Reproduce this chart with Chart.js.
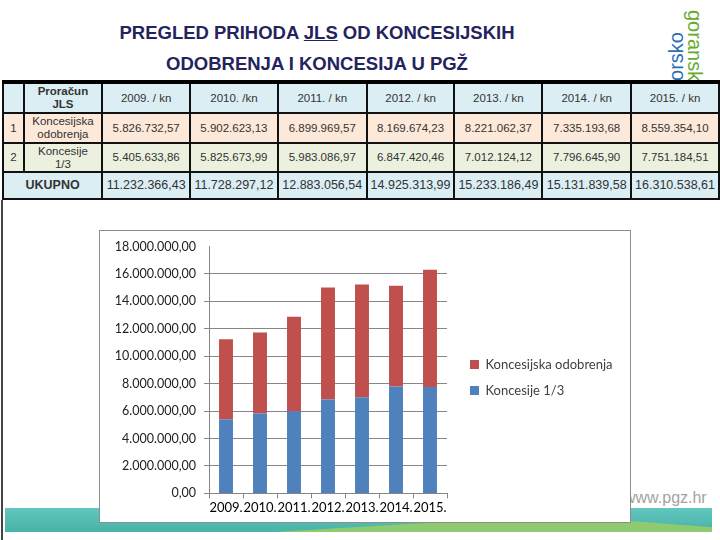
<!DOCTYPE html>
<html>
<head>
<meta charset="utf-8">
<script src="https://cdn.jsdelivr.net/npm/chart.js@4/dist/chart.umd.min.js"></script>
<style>
    body { margin: 0; width: 720px; height: 540px; position: relative; overflow: hidden; background: #fff; font-family: "Liberation Sans", Arial, sans-serif; }
    .title { position: absolute; left: 0; top: 17px; width: 634px; text-align: center; color: #23235e; font-weight: bold; font-size: 18.5px; line-height: 31px; }
    .logo { position: absolute; left: 664px; top: 0; width: 50px; height: 80px; overflow: hidden; }
    .logo span { position: absolute; font-size: 20px; line-height: 19px; writing-mode: vertical-rl; }
    .logo .w1 { left: 3px; top: 32px; color: #2a6fb5; transform: rotate(180deg); }
    .logo .w2 { left: 21px; top: 10px; color: #66ab2e; }
    table { position: absolute; left: 2px; top: 80px; border-collapse: collapse; table-layout: fixed; background: #fff; }
    td { border: 2px solid #111; text-align: center; color: #333; font-size: 11.5px; padding: 0; line-height: 13px; }
    tr.head td { background: #dbeef4; height: 28px; }
    tr.r1 td { background: #fde9d9; height: 28px; }
    tr.r2 td { background: #ebf1de; height: 27px; }
    tr.tot td { background: #dbeef4; height: 25px; font-size: 12.5px; }
    tr.head td { border-top: 4px solid #000; }
    .bold { font-weight: bold; }
    .leftline { position: absolute; left: 1px; top: 200px; width: 2px; height: 340px; background: #444; }
    .band { position: absolute; left: 5px; top: 508px; width: 707px; height: 24px; background: linear-gradient(to bottom, #62c6bf, #48b3a6); }
    .band .green { position: absolute; left: 0; top: 0; width: 100%; height: 100%; background: #8fca70; clip-path: polygon(38% 100%, 78% 30%, 100% 80%, 100% 100%); }
    .www { position: absolute; left: 624px; top: 489px; font-size: 16px; color: #a3a3a3; font-family: "Liberation Sans", Arial, sans-serif; }
    .chartbox { position: absolute; left: 99px; top: 230px; width: 530px; height: 291px; border: 1px solid #8c8c8c; background: #fff; }
</style>
</head>
<body>
<div class="logo"><span class="w1">primorsko</span><span class="w2">goranska</span></div>
<div class="title">PREGLED PRIHODA <u>JLS</u> OD KONCESIJSKIH<br>ODOBRENJA I KONCESIJA U PGŽ</div>
<table id="tbl"></table>
<div class="leftline"></div>
<div class="band"><div class="green"></div></div>
<div class="www">www.pgz.hr</div>
<div class="chartbox"><canvas id="myChart" width="530" height="291"></canvas></div>
<script>
const years = ['2009.', '2010.', '2011.', '2012.', '2013.', '2014.', '2015.'];
const tableHeaders = ['2009. / kn', '2010. /kn', '2011. / kn', '2012. / kn', '2013. / kn', '2014. / kn', '2015. / kn'];
const koncesijskaOdobrenja = [5826732.57, 5902623.13, 6899969.57, 8169674.23, 8221062.37, 7335193.68, 8559354.10];
const koncesije13 = [5405633.86, 5825673.99, 5983086.97, 6847420.46, 7012124.12, 7796645.90, 7751184.51];
const ukupno = [11232366.43, 11728297.12, 12883056.54, 14925313.99, 15233186.49, 15131839.58, 16310538.61];
const yMax = 18000000;
const yStep = 2000000;

const fmt = (v) => {
    let parts = v.toFixed(2).split('.');
    return parts[0].replace(/\B(?=(\d{3})+(?!\d))/g, '.') + ',' + parts[1];
}

const buildTable = () => {
    let colW = [21, 79, 88, 88, 89, 88, 88, 89, 88];
    let html = '<colgroup>' + colW.map(w => '<col style="width:' + w + 'px">').join('') + '</colgroup>';
    html += '<tr class="head"><td></td><td class="bold">Proračun<br>JLS</td>' + tableHeaders.map(h => '<td>' + h + '</td>').join('') + '</tr>';
    html += '<tr class="r1"><td>1</td><td>Koncesijska<br>odobrenja</td>' + koncesijskaOdobrenja.map(v => '<td>' + fmt(v) + '</td>').join('') + '</tr>';
    html += '<tr class="r2"><td>2</td><td>Koncesije<br>1/3</td>' + koncesije13.map(v => '<td>' + fmt(v) + '</td>').join('') + '</tr>';
    html += '<tr class="tot"><td colspan="2" class="bold">UKUPNO</td>' + ukupno.map(v => '<td>' + fmt(v) + '</td>').join('') + '</tr>';
    document.getElementById('tbl').innerHTML = html;
}

// legend on the right: fixed width so the plot ends where the original one does
const legendFit = {
    id: 'legendFit',
    afterInit(chart) {
        const lg = chart.legend;
        const fit = lg.fit;
        lg.fit = function () {
            fit.call(this);
            this.width = 183;
        };
    },
    afterLayout(chart) {
        chart.legend.left += 10;
        chart.legend.right += 10;
        chart.legend.top -= 4;
        chart.legend.bottom -= 4;
    }
}

const myChart = () => {
    const font = "Lato, 'Open Sans', sans-serif";
    new Chart("myChart", {
        type: "bar",
        data: {
            labels: years,
            datasets: [{
                label: 'Koncesije 1/3',
                data: koncesije13,
                backgroundColor: '#4f81bd',
                barPercentage: 0.41,
                categoryPercentage: 1
            }, {
                label: 'Koncesijska odobrenja',
                data: koncesijskaOdobrenja,
                backgroundColor: '#c0504d',
                barPercentage: 0.41,
                categoryPercentage: 1
            }]
        },
        plugins: [legendFit],
        options: {
            responsive: false,
            animation: false,
            layout: { padding: { top: 14, right: 0, bottom: 4, left: 0 } },
            plugins: {
                tooltip: { enabled: false },
                legend: {
                    position: 'right',
                    reverse: true,
                    labels: {
                        boxWidth: 9,
                        boxHeight: 9,
                        padding: 13,
                        color: '#404040',
                        font: { family: font, size: 13 }
                    }
                }
            },
            scales: {
                x: {
                    stacked: true,
                    grid: { display: true, drawOnChartArea: false, drawTicks: true, tickLength: 5, color: '#868686' },
                    border: { color: '#868686' },
                    ticks: { color: '#000', maxRotation: 0, autoSkip: false, padding: 2, font: { family: font, size: 13 } }
                },
                y: {
                    stacked: true,
                    min: 0,
                    max: yMax,
                    afterFit: (s) => { s.width = 109; },
                    grid: {
                        tickLength: 5,
                        color: (c) => c.tick && c.tick.value === yMax ? 'rgba(0,0,0,0)' : '#868686'
                    },
                    border: { color: '#868686' },
                    ticks: {
                        stepSize: yStep,
                        color: '#222',
                        padding: 8,
                        font: { family: font, size: 12.5 },
                        callback: (v) => fmt(v)
                    }
                }
            }
        }
    });
}

buildTable();
myChart();
</script>
</body>
</html>
